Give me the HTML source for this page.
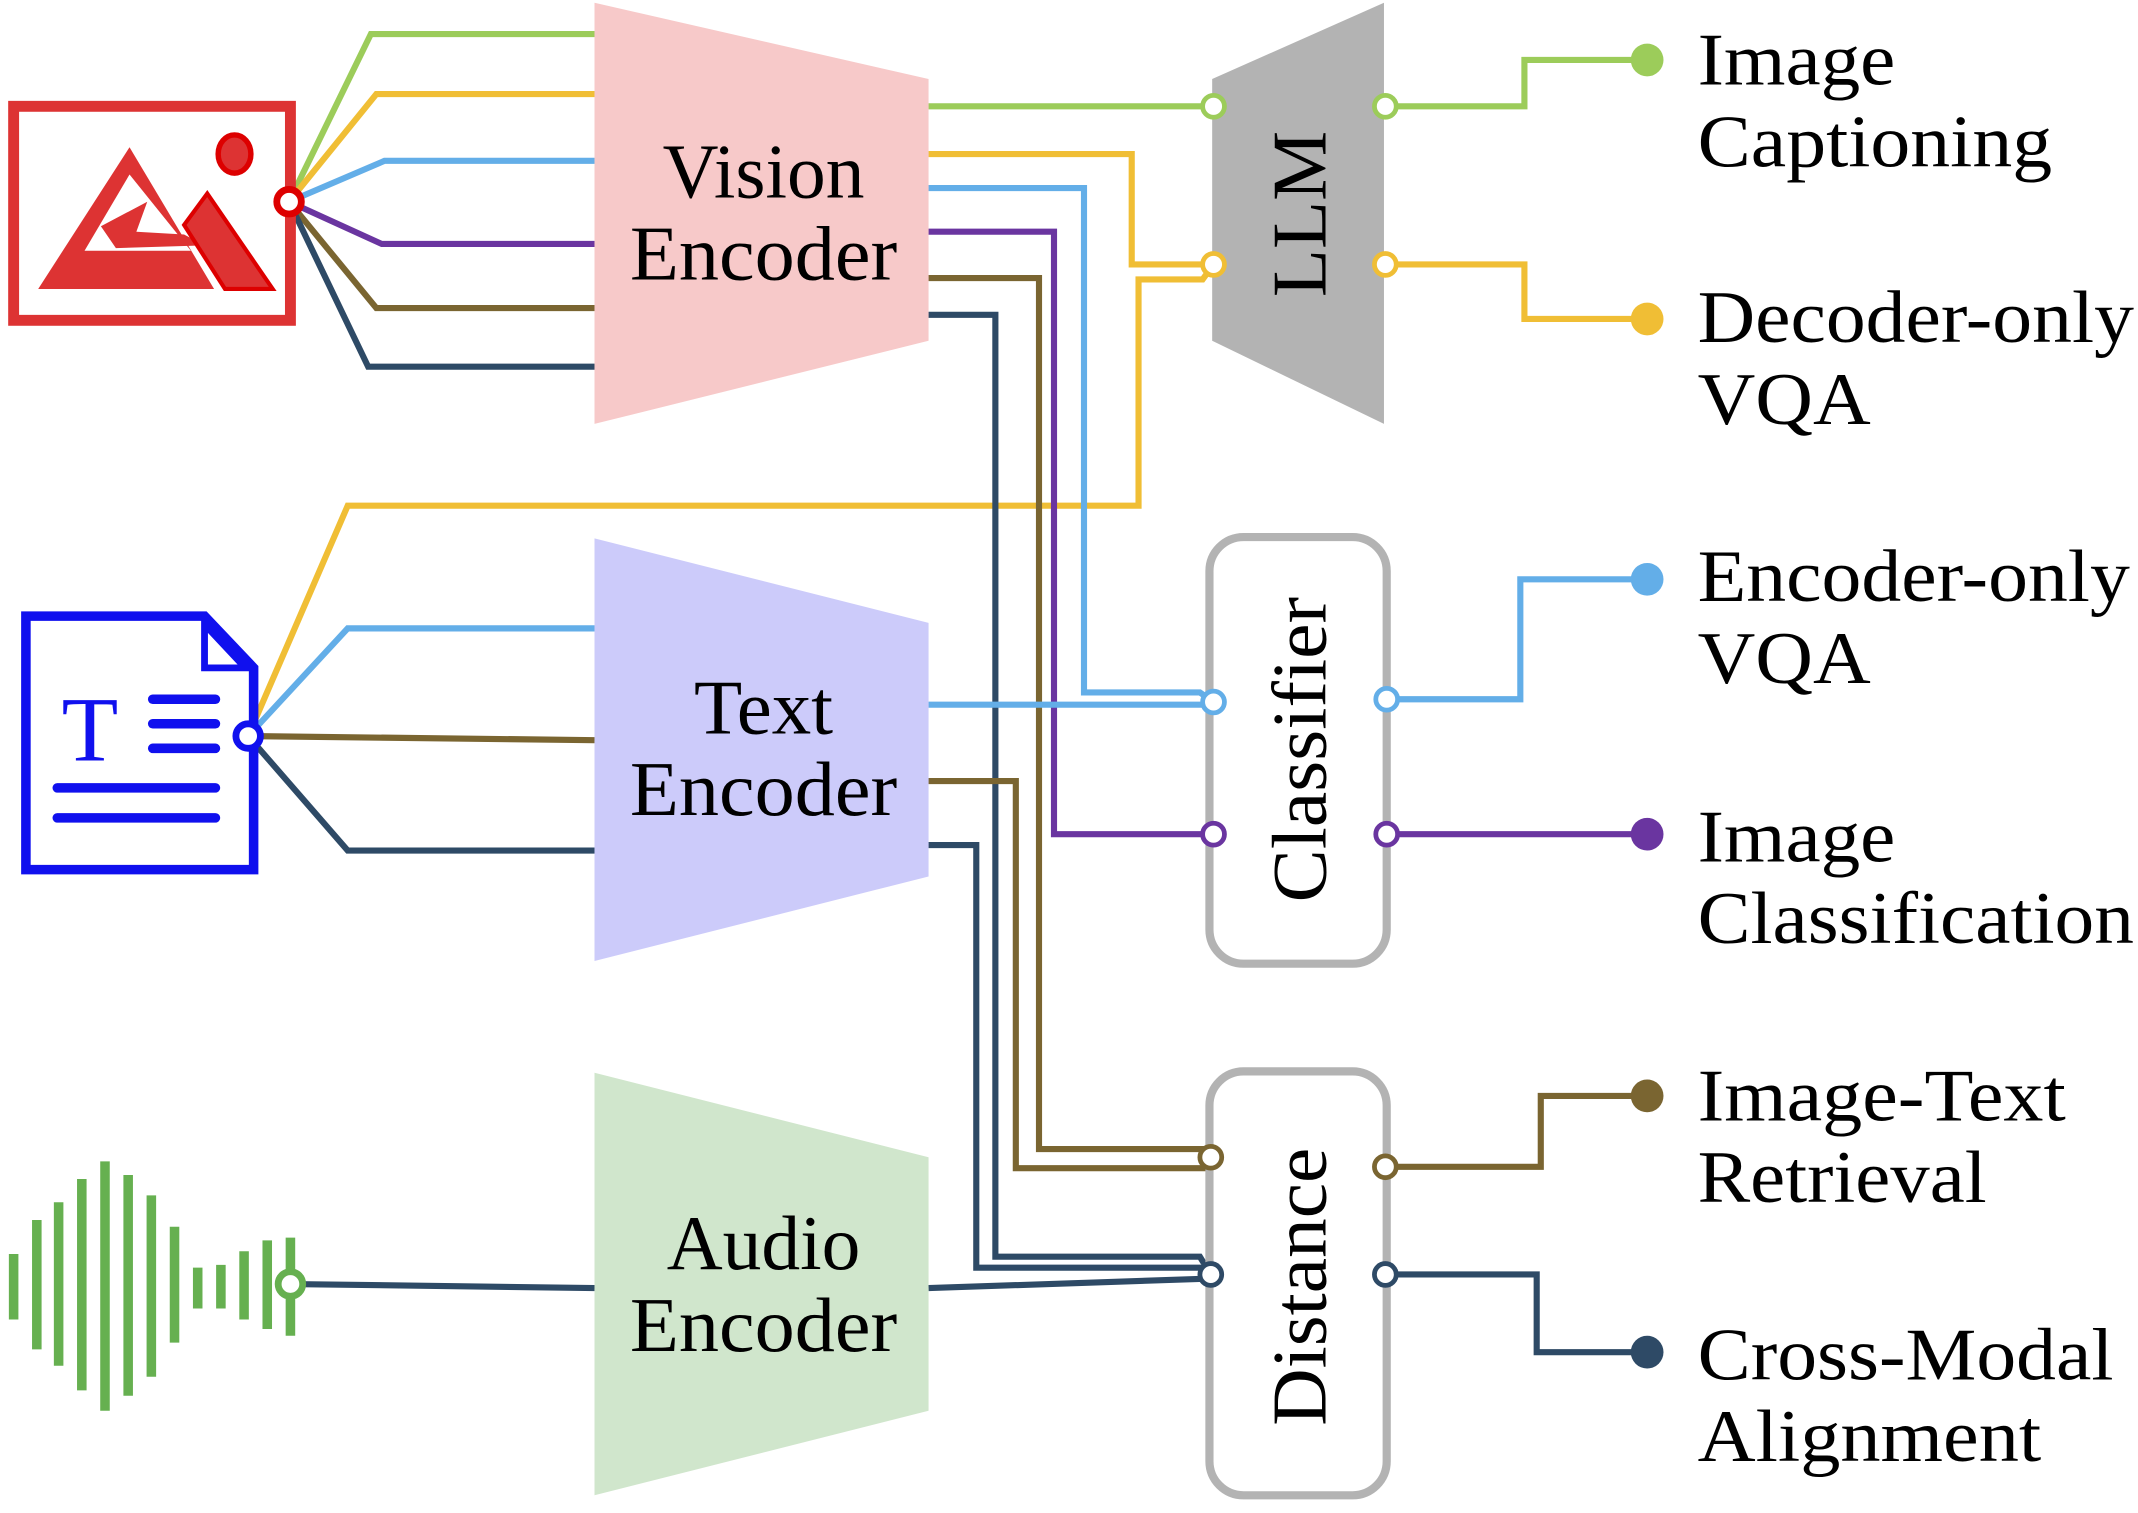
<!DOCTYPE html>
<html><head><meta charset="utf-8"><style>html,body{margin:0;padding:0;background:#fff}svg{display:block}</style></head>
<body>
<svg width="2138" height="1513" viewBox="0 0 1568 1110" preserveAspectRatio="none" xmlns="http://www.w3.org/2000/svg" font-family="Liberation Serif, serif">
<g fill="none" stroke-width="4.5">
<polyline points="212,148 272,25 436,25" stroke="#9ccc5a"/>
<polyline points="212,148 276,69 436,69" stroke="#f0be35"/>
<polyline points="212,148 282,118 436,118" stroke="#63aee8"/>
<polyline points="212,148 280,179 436,179" stroke="#6a35a0"/>
<polyline points="212,148 276,226 436,226" stroke="#7a6531"/>
<polyline points="212,148 270,269 436,269" stroke="#2e4a66"/>
<polyline points="182,540 255,371 835,371 835,205 882,205 890,194" stroke="#f0be35"/>
<polyline points="182,540 255,461 436,461" stroke="#63aee8"/>
<polyline points="182,540 436,543" stroke="#7a6531"/>
<polyline points="182,540 255,624 436,624" stroke="#2e4a66"/>
<line x1="213" y1="942" x2="436" y2="945" stroke="#2e4a66"/>
<line x1="681" y1="78" x2="890" y2="78" stroke="#9ccc5a"/>
<polyline points="681,113 830,113 830,194 890,194" stroke="#f0be35"/>
<polyline points="681,138 795,138 795,508 880,508 890,515" stroke="#63aee8"/>
<polyline points="681,170 773,170 773,612 890,612" stroke="#6a35a0"/>
<polyline points="681,204 762,204 762,843 888,843" stroke="#7a6531"/>
<polyline points="681,231 730,231 730,922 880,922 888,935" stroke="#2e4a66"/>
<line x1="681" y1="517" x2="890" y2="517" stroke="#63aee8"/>
<polyline points="681,573 745,573 745,857 888,857 888,849" stroke="#7a6531"/>
<polyline points="681,620 716,620 716,930 880,930 888,935" stroke="#2e4a66"/>
<polyline points="681,945 888,938" stroke="#2e4a66"/>
<polyline points="1016,78 1118,78 1118,44 1208,44" stroke="#9ccc5a"/>
<polyline points="1016,194 1118,194 1118,234 1208,234" stroke="#f0be35"/>
<polyline points="1017,513 1115,513 1115,425 1208,425" stroke="#63aee8"/>
<polyline points="1017,612 1208,612" stroke="#6a35a0"/>
<polyline points="1016,856 1130,856 1130,804 1208,804" stroke="#7a6531"/>
<polyline points="1016,935 1127,935 1127,992 1208,992" stroke="#2e4a66"/>
</g>
<polygon points="436,2 681,58 681,250 436,311" fill="#f7c9c9"/>
<polygon points="436,395 681,457 681,643 436,705" fill="#cccbfa"/>
<polygon points="436,787 681,849 681,1035 436,1097" fill="#d0e6cc"/>
<polygon points="889,58 1015,2 1015,311 889,250" fill="#b3b3b3"/>
<rect x="887" y="394" width="130" height="313" rx="25" fill="#fff" stroke="#b3b3b3" stroke-width="6"/>
<rect x="887" y="786" width="130" height="311" rx="25" fill="#fff" stroke="#b3b3b3" stroke-width="6"/>
<g font-size="57" text-anchor="middle" fill="#000" lengthAdjust="spacingAndGlyphs">
<text x="560" y="145" textLength="148" lengthAdjust="spacingAndGlyphs">Vision</text><text x="560" y="205" textLength="196" lengthAdjust="spacingAndGlyphs">Encoder</text>
<text x="560" y="538" textLength="102" lengthAdjust="spacingAndGlyphs">Text</text><text x="560" y="598" textLength="196" lengthAdjust="spacingAndGlyphs">Encoder</text>
<text x="560" y="931" textLength="142" lengthAdjust="spacingAndGlyphs">Audio</text><text x="560" y="991" textLength="196" lengthAdjust="spacingAndGlyphs">Encoder</text>
<text transform="translate(972,157) rotate(-90)" textLength="122" lengthAdjust="spacingAndGlyphs">LLM</text>
<text transform="translate(972,550) rotate(-90)" textLength="224" lengthAdjust="spacingAndGlyphs">Classifier</text>
<text transform="translate(972,944) rotate(-90)" textLength="204" lengthAdjust="spacingAndGlyphs">Distance</text>
</g>
<g font-size="54" fill="#000">
<text x="1245" y="62" textLength="145" lengthAdjust="spacingAndGlyphs">Image</text><text x="1245" y="122" textLength="260" lengthAdjust="spacingAndGlyphs">Captioning</text>
<text x="1245" y="251" textLength="320" lengthAdjust="spacingAndGlyphs">Decoder-only</text><text x="1245" y="311" textLength="127" lengthAdjust="spacingAndGlyphs">VQA</text>
<text x="1245" y="441" textLength="317" lengthAdjust="spacingAndGlyphs">Encoder-only</text><text x="1245" y="501" textLength="127" lengthAdjust="spacingAndGlyphs">VQA</text>
<text x="1245" y="632" textLength="145" lengthAdjust="spacingAndGlyphs">Image</text><text x="1245" y="692" textLength="320" lengthAdjust="spacingAndGlyphs">Classification</text>
<text x="1245" y="822" textLength="270" lengthAdjust="spacingAndGlyphs">Image-Text</text><text x="1245" y="882" textLength="212" lengthAdjust="spacingAndGlyphs">Retrieval</text>
<text x="1245" y="1012" textLength="305" lengthAdjust="spacingAndGlyphs">Cross-Modal</text><text x="1245" y="1072" textLength="252" lengthAdjust="spacingAndGlyphs">Alignment</text>
</g>
<g fill="#fff" stroke-width="3.5">
<circle cx="890" cy="78" r="8" stroke="#9ccc5a"/><circle cx="1016" cy="78" r="8" stroke="#9ccc5a"/>
<circle cx="890" cy="194" r="8" stroke="#f0be35"/><circle cx="1016" cy="194" r="8" stroke="#f0be35"/>
<circle cx="890" cy="515" r="8" stroke="#63aee8"/><circle cx="1017" cy="513" r="8" stroke="#63aee8"/>
<circle cx="890" cy="612" r="8" stroke="#6a35a0"/><circle cx="1017" cy="612" r="8" stroke="#6a35a0"/>
<circle cx="888" cy="849" r="8" stroke="#7a6531"/><circle cx="1016" cy="856" r="8" stroke="#7a6531"/>
<circle cx="888" cy="935" r="8" stroke="#2e4a66"/><circle cx="1016" cy="935" r="8" stroke="#2e4a66"/>
</g>
<circle cx="1208" cy="44" r="12" fill="#9ccc5a"/>
<circle cx="1208" cy="234" r="12" fill="#f0be35"/>
<circle cx="1208" cy="425" r="12" fill="#63aee8"/>
<circle cx="1208" cy="612" r="12" fill="#6a35a0"/>
<circle cx="1208" cy="804" r="12" fill="#7a6531"/>
<circle cx="1208" cy="992" r="12" fill="#2e4a66"/>
<rect x="10" y="78" width="203" height="157" fill="#fff" stroke="#dd3333" stroke-width="8"/>
<polygon points="28,212 95,108 157,212" fill="#dd3333"/>
<polygon points="95,128 62,184 140,184" fill="#fff"/>
<polygon points="74,166 108,148 100,170 135,172 150,180 85,182" fill="#dd3333"/>
<polygon points="135,165 152,142 200,212 165,212" fill="#dd3333" stroke="#dd0000" stroke-width="3"/>
<ellipse cx="172" cy="113" rx="12" ry="14" fill="#dd3333" stroke="#dd0000" stroke-width="4"/>
<circle cx="212" cy="148" r="9" fill="#fff" stroke="#dd0000" stroke-width="5"/>
<polygon points="19,452 150,452 186,490 186,638 19,638" fill="#fff" stroke="#1010ee" stroke-width="7"/>
<polygon points="150,458 150,490 180,490" fill="#fff" stroke="#1010ee" stroke-width="5"/>
<text x="66" y="558" font-size="68" text-anchor="middle" fill="#1010ee">T</text>
<g stroke="#1010ee" stroke-width="7" stroke-linecap="round">
<line x1="112" y1="513" x2="158" y2="513"/><line x1="112" y1="531" x2="158" y2="531"/><line x1="112" y1="549" x2="158" y2="549"/>
<line x1="42" y1="578" x2="158" y2="578"/><line x1="42" y1="600" x2="158" y2="600"/>
</g>
<circle cx="182" cy="540" r="9" fill="#fff" stroke="#1010ee" stroke-width="5"/>
<g stroke="#66b050" stroke-width="7">
<line x1="10" y1="920" x2="10" y2="968"/><line x1="27" y1="895" x2="27" y2="990"/>
<line x1="43" y1="882" x2="43" y2="1002"/><line x1="60" y1="865" x2="60" y2="1020"/>
<line x1="77" y1="852" x2="77" y2="1035"/><line x1="94" y1="862" x2="94" y2="1024"/>
<line x1="111" y1="877" x2="111" y2="1010"/><line x1="128" y1="900" x2="128" y2="985"/>
<line x1="145" y1="930" x2="145" y2="960"/><line x1="162" y1="928" x2="162" y2="960"/>
<line x1="179" y1="918" x2="179" y2="968"/><line x1="196" y1="910" x2="196" y2="975"/>
<line x1="213" y1="908" x2="213" y2="980"/>
</g>
<circle cx="213" cy="942" r="9" fill="#fff" stroke="#66b050" stroke-width="5"/>
</svg>
</body></html>
